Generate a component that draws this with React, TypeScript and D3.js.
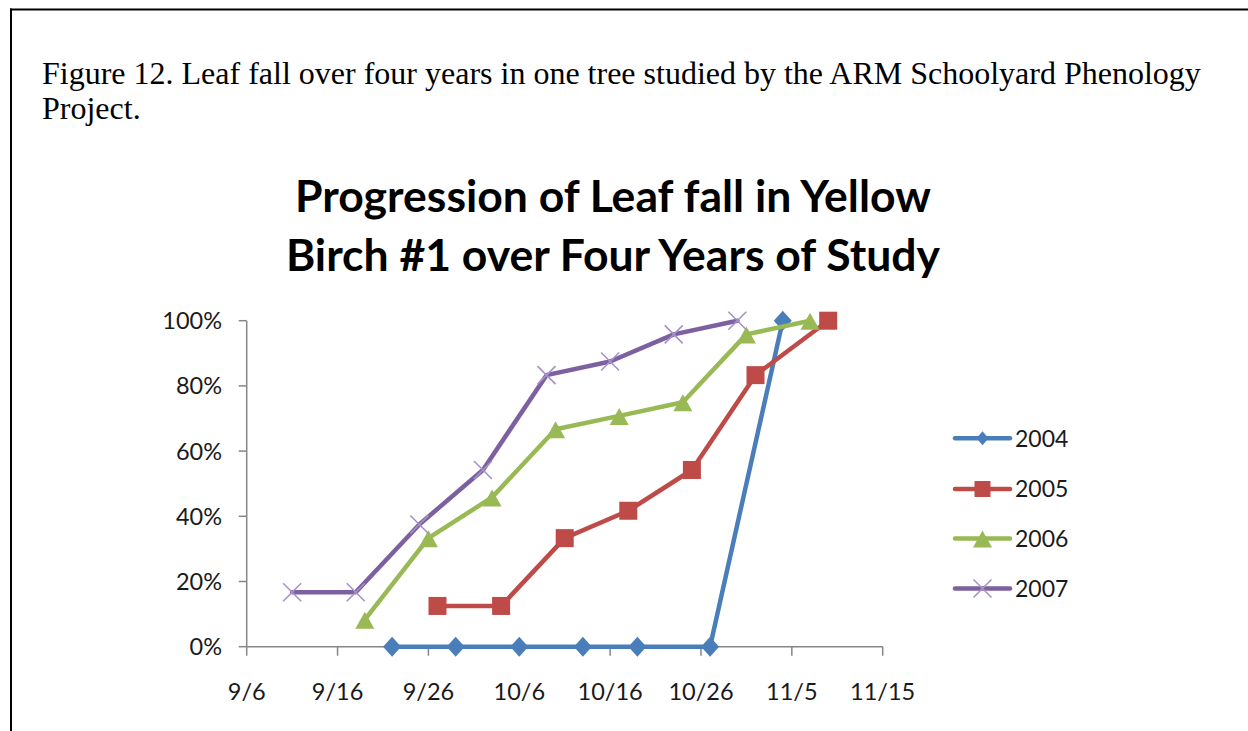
import React from "react";
import * as d3 from "d3";

const captionLines = [
  "Figure 12. Leaf fall over four years in one tree studied by the ARM Schoolyard Phenology",
  "Project.",
];
const titleLines = ["Progression of Leaf fall in Yellow", "Birch #1 over Four Years of Study"];

const xTickLabels = ["9/6", "9/16", "9/26", "10/6", "10/16", "10/26", "11/5", "11/15"];
const yTickValues = [0, 20, 40, 60, 80, 100];

const dates2004 = ["9/22", "9/29", "10/6", "10/13", "10/19", "10/27", "11/4"];
const values2004 = [0, 0, 0, 0, 0, 0, 100];

const dates2005 = ["9/27", "10/4", "10/11", "10/18", "10/25", "11/1", "11/9"];
const values2005 = [12.5, 12.5, 33.3, 41.7, 54.2, 83.3, 100];

const dates2006 = ["9/19", "9/26", "10/3", "10/10", "10/17", "10/24", "10/31", "11/7"];
const values2006 = [8.3, 33.3, 45.8, 66.7, 70.8, 75, 95.8, 100];

const dates2007 = ["9/11", "9/18", "9/25", "10/2", "10/9", "10/16", "10/23", "10/30"];
const values2007 = [16.7, 16.7, 37.5, 54.2, 83.3, 87.5, 95.8, 100];

const seriesNames = ["2004", "2005", "2006", "2007"];
const seriesColors = ["#4A7EBB", "#BE4B48", "#98B954", "#7D60A0"];
const seriesMarkers = ["diamond", "square", "triangle", "x"];

const parse = d3.timeParse("%m/%d/%Y");
const toDate = (s: string) => parse(s + "/2001") as Date;

const series = [
  { dates: dates2004, values: values2004 },
  { dates: dates2005, values: values2005 },
  { dates: dates2006, values: values2006 },
  { dates: dates2007, values: values2007 },
].map((s, i) => ({
  name: seriesNames[i],
  color: seriesColors[i],
  marker: seriesMarkers[i],
  points: s.dates.map((d, j) => ({ date: toDate(d), value: s.values[j] })),
}));

const CALIBRI = "Lato, 'Open Sans', sans-serif";

function Marker({ type, x, y, color, legend }: { type: string; x: number; y: number; color: string; legend?: boolean }) {
  if (type === "diamond") {
    const w = legend ? 6 : 9;
    const h = legend ? 7 : 10;
    return <path d={`M${x},${y - h}L${x + w},${y}L${x},${y + h}L${x - w},${y}Z`} fill={color} />;
  }
  if (type === "square") {
    const s = legend ? 8 : 9;
    return <rect x={x - s} y={y - s} width={2 * s} height={2 * s} fill={color} />;
  }
  if (type === "triangle") {
    return <path d={`M${x},${y - 8}L${x + 9.5},${y + 9}L${x - 9.5},${y + 9}Z`} fill={color} />;
  }
  const s = 9;
  return (
    <g stroke="#A593C6" strokeWidth={1.6}>
      <line x1={x - s} y1={y - s} x2={x + s} y2={y + s} />
      <line x1={x - s} y1={y + s} x2={x + s} y2={y - s} />
    </g>
  );
}

export default function App() {
  const x = d3.scaleTime().domain([toDate("9/6"), toDate("11/15")]).range([246.7, 882.7]);
  const y = d3.scaleLinear().domain([0, 100]).range([646.7, 320.7]);
  const line = d3
    .line<{ date: Date; value: number }>()
    .x((d) => x(d.date))
    .y((d) => y(d.value));

  const axisColor = "#868686";
  const legendX = 955;
  const legendY = [438.3, 489, 538.5, 588.5];

  return (
    <svg
      width={1248}
      height={731}
      style={{ position: "absolute", left: 0, top: 0, background: "#fff" }}
    >
      <rect x={0} y={0} width={1248} height={731} fill="#fff" />
      {/* frame */}
      <line x1={10} y1={9.5} x2={1248} y2={9.5} stroke="#000" strokeWidth={2} />
      <line x1={11} y1={8.5} x2={11} y2={731} stroke="#000" strokeWidth={2} />

      {/* caption */}
      {captionLines.map((t, i) => (
        <text
          key={i}
          x={42}
          y={84 + i * 35}
          fontFamily="'Liberation Serif', 'Times New Roman', serif"
          fontSize={32}
          fill="#000"
        >
          {t}
        </text>
      ))}

      {/* chart title */}
      {titleLines.map((t, i) => (
        <text
          key={i}
          x={613}
          y={211.5 + i * 59}
          textAnchor="middle"
          fontFamily={CALIBRI}
          fontWeight={700}
          fontSize={44.5}
          fill="#000"
        >
          {t}
        </text>
      ))}

      {/* y axis */}
      <line x1={x.range()[0]} y1={y(0)} x2={x.range()[0]} y2={y(100)} stroke={axisColor} strokeWidth={1.5} />
      {yTickValues.map((v) => (
        <g key={v}>
          <line x1={x.range()[0] - 8} x2={x.range()[0]} y1={y(v)} y2={y(v)} stroke={axisColor} strokeWidth={1.5} />
          <text
            x={222}
            y={y(v)}
            dy="0.36em"
            textAnchor="end"
            fontFamily={CALIBRI}
            fontSize={23.5}
            fill="#1a1a1a"
          >
            {v + "%"}
          </text>
        </g>
      ))}

      {/* x axis */}
      <line x1={x.range()[0]} y1={y(0)} x2={x.range()[1]} y2={y(0)} stroke={axisColor} strokeWidth={1.5} />
      {xTickLabels.map((t) => (
        <g key={t}>
          <line x1={x(toDate(t))} x2={x(toDate(t))} y1={y(0)} y2={y(0) + 9} stroke={axisColor} strokeWidth={1.5} />
          <text
            x={x(toDate(t))}
            y={700}
            textAnchor="middle"
            fontFamily={CALIBRI}
            fontSize={23.5}
            fill="#1a1a1a"
          >
            {t}
          </text>
        </g>
      ))}

      {/* series */}
      {series.map((s) => (
        <g key={s.name}>
          <path d={line(s.points) || ""} fill="none" stroke={s.color} strokeWidth={4.5} strokeLinejoin="round" strokeLinecap="round" />
          {s.points.map((p, j) => (
            <Marker key={j} type={s.marker} x={x(p.date)} y={y(p.value)} color={s.color} />
          ))}
        </g>
      ))}

      {/* legend */}
      {series.map((s, i) => (
        <g key={s.name}>
          <line x1={legendX} x2={legendX + 55} y1={legendY[i]} y2={legendY[i]} stroke={s.color} strokeWidth={4.5} strokeLinecap="round" />
          <Marker type={s.marker} x={legendX + 27.5} y={legendY[i]} color={s.color} legend />
          <text
            x={1015}
            y={legendY[i]}
            dy="0.36em"
            fontFamily={CALIBRI}
            fontSize={23}
            fill="#1a1a1a"
          >
            {s.name}
          </text>
        </g>
      ))}
    </svg>
  );
}
